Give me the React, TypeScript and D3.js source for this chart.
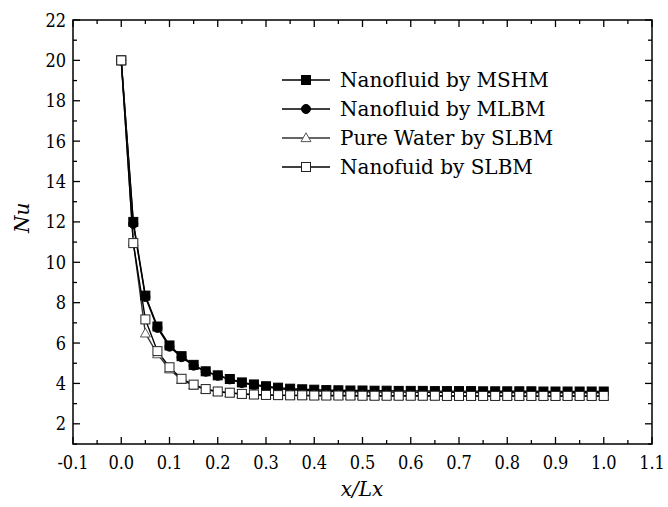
import React from "react";
import * as d3 from "d3";

const xValues = [0, 0.025, 0.05, 0.075, 0.1, 0.125, 0.15, 0.175, 0.2, 0.225, 0.25, 0.275, 0.3, 0.325, 0.35, 0.375, 0.4, 0.425, 0.45, 0.475, 0.5, 0.525, 0.55, 0.575, 0.6, 0.625, 0.65, 0.675, 0.7, 0.725, 0.75, 0.775, 0.8, 0.825, 0.85, 0.875, 0.9, 0.925, 0.95, 0.975, 1.0];

const nanoMSHM = [20, 12.0, 8.35, 6.82, 5.88, 5.35, 4.92, 4.6, 4.4, 4.22, 4.05, 3.95, 3.86, 3.79, 3.74, 3.71, 3.69, 3.67, 3.66, 3.65, 3.65, 3.64, 3.64, 3.63, 3.63, 3.63, 3.62, 3.62, 3.62, 3.62, 3.61, 3.61, 3.61, 3.61, 3.61, 3.6, 3.6, 3.6, 3.6, 3.6, 3.6];
const nanoMLBM = [20, 11.9, 8.28, 6.75, 5.82, 5.3, 4.88, 4.58, 4.38, 4.2, 4.02, 3.92, 3.82, 3.74, 3.69, 3.66, 3.63, 3.61, 3.6, 3.59, 3.58, 3.58, 3.57, 3.57, 3.57, 3.56, 3.56, 3.56, 3.56, 3.55, 3.55, 3.55, 3.55, 3.55, 3.55, 3.55, 3.55, 3.54, 3.54, 3.54, 3.54];
const waterSLBM = [20, 11.0, 6.48, 5.45, 4.7, 4.18, 3.9, 3.7, 3.58, 3.52, 3.47, 3.44, 3.42, 3.41, 3.4, 3.4, 3.39, 3.39, 3.39, 3.38, 3.38, 3.38, 3.38, 3.38, 3.38, 3.37, 3.37, 3.37, 3.37, 3.37, 3.37, 3.37, 3.37, 3.36, 3.36, 3.36, 3.36, 3.36, 3.36, 3.36, 3.36];
const nanoSLBM = [20, 10.95, 7.17, 5.6, 4.8, 4.23, 3.94, 3.72, 3.6, 3.54, 3.48, 3.45, 3.43, 3.42, 3.41, 3.41, 3.4, 3.4, 3.4, 3.4, 3.39, 3.39, 3.39, 3.39, 3.39, 3.39, 3.39, 3.38, 3.38, 3.38, 3.38, 3.38, 3.38, 3.38, 3.38, 3.38, 3.38, 3.38, 3.38, 3.38, 3.38];

const seriesNames = ["Nanofluid by MSHM", "Nanofluid by MLBM", "Pure Water by SLBM", "Nanofuid by SLBM"];
const xTicks = [-0.1, 0, 0.1, 0.2, 0.3, 0.4, 0.5, 0.6, 0.7, 0.8, 0.9, 1.0, 1.1];
const yTicks = [2, 4, 6, 8, 10, 12, 14, 16, 18, 20, 22];

const FONT = "DejaVu Serif";
const COND = "DejaVu Serif Condensed";

type Kind = "fsquare" | "circle" | "triangle" | "osquare";
const kinds: Kind[] = ["fsquare", "circle", "triangle", "osquare"];

function Marker({ kind, x, y }: { kind: Kind; x: number; y: number }) {
  const s = 4.5;
  if (kind === "fsquare") return <rect x={x - s} y={y - s} width={2 * s} height={2 * s} fill="#000" stroke="#000" strokeWidth={1} />;
  if (kind === "circle") return <circle cx={x} cy={y} r={s} fill="#000" stroke="#000" strokeWidth={1} />;
  if (kind === "triangle") {
    const r = 5.2;
    const pts = `${x},${y - r} ${x - r * 0.95},${y + r * 0.7} ${x + r * 0.95},${y + r * 0.7}`;
    return <polygon points={pts} fill="#fff" stroke="#555" strokeWidth={1} />;
  }
  return <rect x={x - s} y={y - s} width={2 * s} height={2 * s} fill="#fff" stroke="#222" strokeWidth={1} />;
}

export default function App() {
  const W = 668, H = 507;
  const left = 73, right = 652, top = 20, bottom = 444;
  const x = d3.scaleLinear().domain([-0.1, 1.1]).range([left, right]);
  const y = d3.scaleLinear().domain([1, 22]).range([bottom, top]);
  const all = [nanoMSHM, nanoMLBM, waterSLBM, nanoSLBM];
  const line = d3.line<number>().x((_, i) => x(xValues[i])).y((d) => y(d));
  const lineColors = ["#000", "#000", "#333", "#000"];

  const xMinor = d3.range(-0.05, 1.1, 0.1);
  const yMinor = d3.range(1, 22.01, 2);

  const legX = 282, legY0 = 80, legDy = 29;

  return (
    <svg width={W} height={H} style={{ position: "absolute", left: 0, top: 0, background: "#fff" }}>
      <rect width={W} height={H} fill="#fff" />
      {xTicks.map((t) => (
        <g key={"xt" + t}>
          <line x1={x(t)} x2={x(t)} y1={bottom} y2={bottom - 7} stroke="#000" strokeWidth={1.3} />
          <line x1={x(t)} x2={x(t)} y1={top} y2={top + 7} stroke="#000" strokeWidth={1.3} />
          <text x={x(t)} y={bottom + 25} fontFamily={COND} fontSize={18} textAnchor="middle">{t.toFixed(1)}</text>
        </g>
      ))}
      {xMinor.map((t) => (
        <g key={"xm" + t}>
          <line x1={x(t)} x2={x(t)} y1={bottom} y2={bottom - 4} stroke="#000" strokeWidth={1.3} />
          <line x1={x(t)} x2={x(t)} y1={top} y2={top + 4} stroke="#000" strokeWidth={1.3} />
        </g>
      ))}
      {yTicks.map((t) => (
        <g key={"yt" + t}>
          <line x1={left} x2={left + 7} y1={y(t)} y2={y(t)} stroke="#000" strokeWidth={1.3} />
          <line x1={right} x2={right - 7} y1={y(t)} y2={y(t)} stroke="#000" strokeWidth={1.3} />
          <text x={left - 7} y={y(t) + 6.5} fontFamily={COND} fontSize={18} textAnchor="end">{t}</text>
        </g>
      ))}
      {yMinor.map((t) => (
        <g key={"ym" + t}>
          <line x1={left} x2={left + 4} y1={y(t)} y2={y(t)} stroke="#000" strokeWidth={1.3} />
          <line x1={right} x2={right - 4} y1={y(t)} y2={y(t)} stroke="#000" strokeWidth={1.3} />
        </g>
      ))}
      <rect x={left} y={top} width={right - left} height={bottom - top} fill="none" stroke="#000" strokeWidth={1.5} />

      {all.map((s, k) => (
        <path key={"l" + k} d={line(s) || ""} fill="none" stroke={lineColors[k]} strokeWidth={1.4} />
      ))}
      {all.map((s, k) => (
        <g key={"m" + k}>
          {s.map((v, i) => (
            <Marker key={i} kind={kinds[k]} x={x(xValues[i])} y={y(v)} />
          ))}
        </g>
      ))}

      {seriesNames.map((n, k) => (
        <g key={"lg" + k}>
          <line x1={legX} x2={legX + 48} y1={legY0 + k * legDy} y2={legY0 + k * legDy} stroke={lineColors[k]} strokeWidth={1.4} />
          <Marker kind={kinds[k]} x={legX + 24} y={legY0 + k * legDy} />
          <text x={legX + 58} y={legY0 + k * legDy + 7} fontFamily={FONT} fontSize={20}>{n}</text>
        </g>
      ))}

      <text x={362} y={496} fontFamily={FONT} fontSize={20} fontStyle="italic" textAnchor="middle">x/Lx</text>
      <text transform={`translate(29, ${y(12.2)}) rotate(-90)`} fontFamily={FONT} fontSize={20} fontStyle="italic" textAnchor="middle">Nu</text>
    </svg>
  );
}
